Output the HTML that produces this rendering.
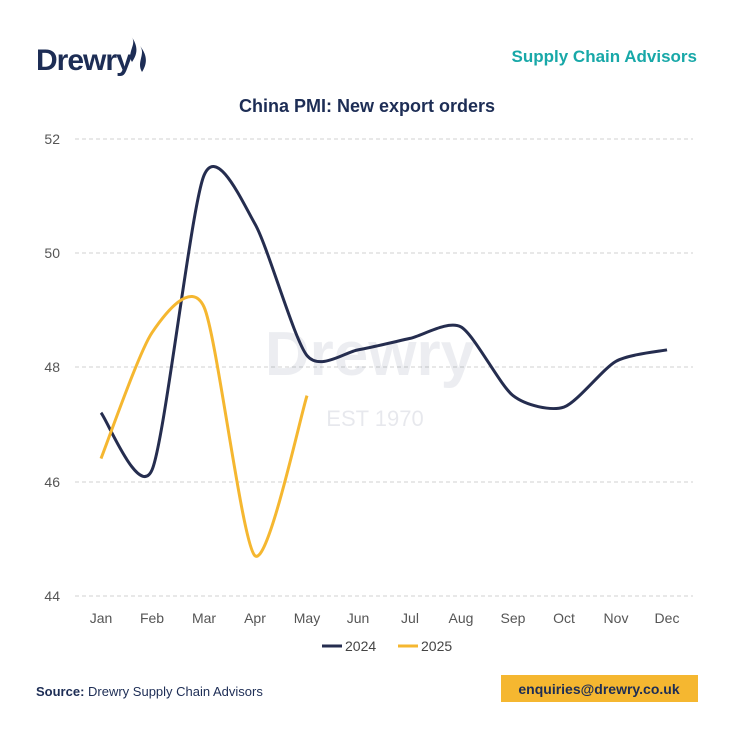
<!DOCTYPE html>
<html><head><meta charset="utf-8"><style>
html,body{margin:0;padding:0;background:#fff;}
body{width:731px;height:730px;position:relative;overflow:hidden;font-family:"Liberation Sans",sans-serif;}
</style></head><body>
<svg width="731" height="730" viewBox="0 0 731 730" xmlns="http://www.w3.org/2000/svg">
<text x="36" y="70" font-family="Liberation Sans" font-weight="bold" font-size="30" fill="#1d2d55" letter-spacing="-1">Drewry</text>
<path d="M131 36 C138 44,126 52,132 62 C136 56,140 48,131 36 Z M140 46 C146 54,136 62,142 72 C147 64,148 56,140 46 Z" fill="#1d2d55"/>
<text x="697" y="62" text-anchor="end" font-weight="bold" font-size="17" fill="#18a8a8">Supply Chain Advisors</text>
<text x="367" y="112" text-anchor="middle" font-weight="bold" font-size="18" fill="#1d2d55">China PMI: New export orders</text>
<g stroke="#d0d0d0" stroke-dasharray="4,3" stroke-width="1">
<line x1="75" x2="693" y1="139" y2="139"/><line x1="75" x2="693" y1="253" y2="253"/><line x1="75" x2="693" y1="367" y2="367"/><line x1="75" x2="693" y1="482" y2="482"/><line x1="75" x2="693" y1="596" y2="596"/>
</g>
<g font-size="14" fill="#555" text-anchor="end">
<text x="60" y="144">52</text><text x="60" y="258">50</text><text x="60" y="372">48</text><text x="60" y="487">46</text><text x="60" y="601">44</text>
</g>
<g font-size="14" fill="#555" text-anchor="middle">
<text x="101" y="623">Jan</text><text x="152" y="623">Feb</text><text x="204" y="623">Mar</text><text x="255" y="623">Apr</text><text x="307" y="623">May</text><text x="358" y="623">Jun</text><text x="410" y="623">Jul</text><text x="461" y="623">Aug</text><text x="513" y="623">Sep</text><text x="564" y="623">Oct</text><text x="616" y="623">Nov</text><text x="667" y="623">Dec</text>
</g>
<text x="370" y="375" text-anchor="middle" font-weight="bold" font-size="62" fill="#1d2d55" opacity="0.08">Drewry</text>
<text x="375" y="426" text-anchor="middle" font-size="22" fill="#1d2d55" opacity="0.1">EST 1970</text>
<path id="p24" fill="none" stroke="#252d4f" stroke-width="3"/>
<path id="p25" fill="none" stroke="#f5b730" stroke-width="3"/>
<line x1="322" x2="342" y1="646" y2="646" stroke="#252d4f" stroke-width="3"/>
<text x="345" y="651" font-size="14" fill="#444">2024</text>
<line x1="398" x2="418" y1="646" y2="646" stroke="#f5b730" stroke-width="3"/>
<text x="421" y="651" font-size="14" fill="#444">2025</text>
<text x="36" y="696" font-size="13" fill="#1d2d55"><tspan font-weight="bold">Source:</tspan> Drewry Supply Chain Advisors</text>
<rect x="501" y="675" width="197" height="27" fill="#f5b730"/>
<text x="599" y="694" text-anchor="middle" font-weight="bold" font-size="14" fill="#1d2d55">enquiries@drewry.co.uk</text>
</svg>
<script>
function y(v){return 367-(v-48)*57.2;}
function path(vals){var xs=[101,152,204,255,307,358,410,461,513,564,616,667];
var p=vals.map(function(v,i){return [xs[i],y(v)];});
var k=8;
var d="M"+p[0][0]+","+p[0][1];
for(var i=0;i<p.length-1;i++){var p0=p[i-1]||p[i],p1=p[i],p2=p[i+1],p3=p[i+2]||p2;
d+=" C"+(p1[0]+(p2[0]-p0[0])/k)+","+(p1[1]+(p2[1]-p0[1])/k)+" "+(p2[0]-(p3[0]-p1[0])/k)+","+(p2[1]-(p3[1]-p1[1])/k)+" "+p2[0]+","+p2[1];}
return d;}
document.getElementById("p24").setAttribute("d",path([47.2,46.2,51.35,50.5,48.2,48.3,48.5,48.7,47.5,47.3,48.1,48.3]));
document.getElementById("p25").setAttribute("d",path([46.4,48.6,49.05,44.7,47.5]));
</script>
</body></html>
